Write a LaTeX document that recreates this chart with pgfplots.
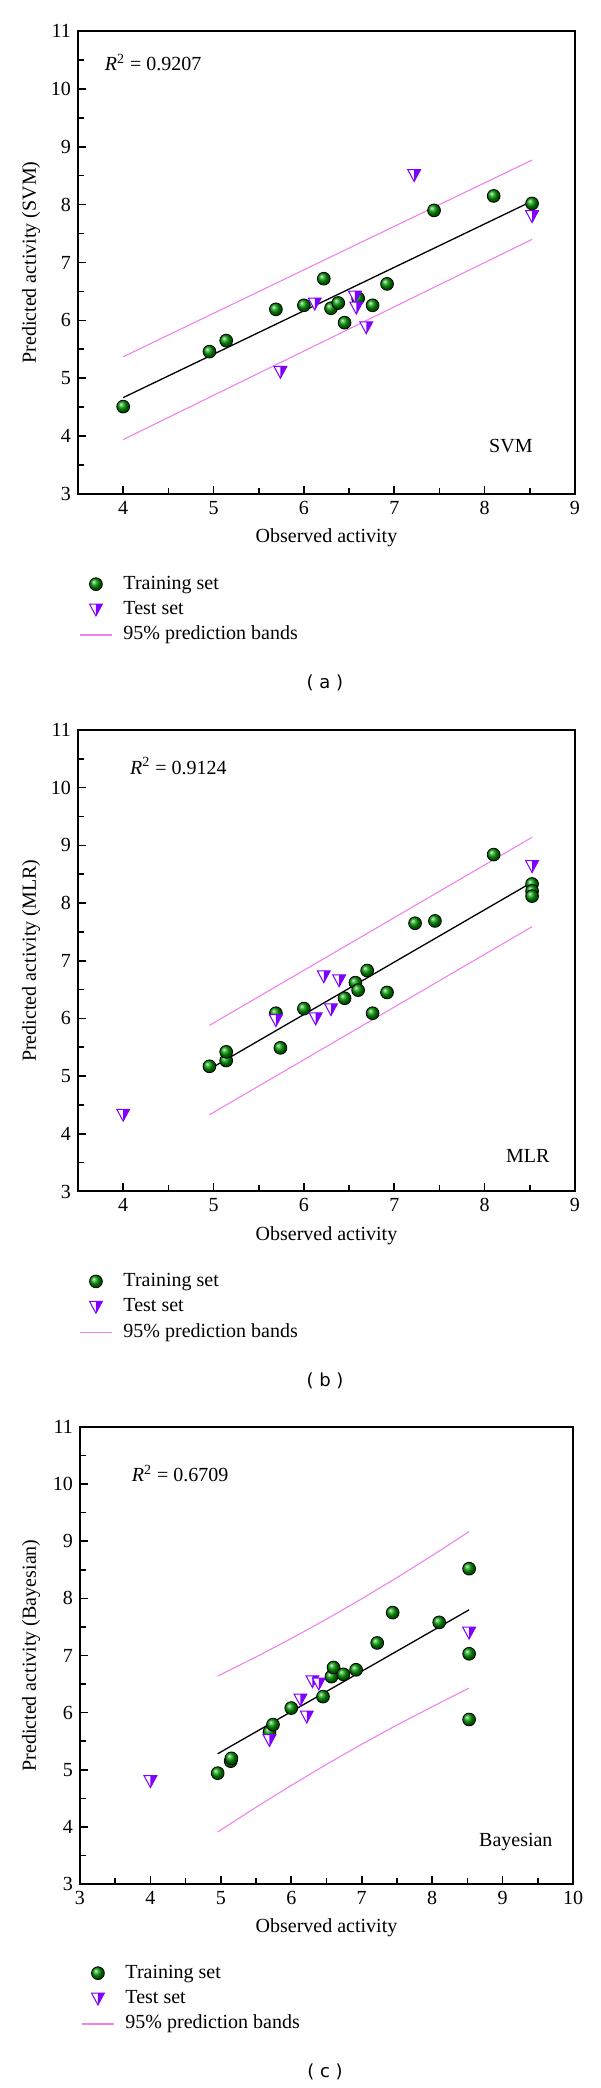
\documentclass[border=0pt]{standalone}
\usepackage{fontspec}
\setmainfont{Liberation Serif}
\newfontfamily\panelfont{DejaVu Sans}
\usepackage{pgfplots}
\pgfplotsset{compat=1.18}

\definecolor{ballgreen}{RGB}{0,150,0}
\definecolor{tripurple}{RGB}{127,0,255}
\definecolor{bandpink}{RGB}{238,130,238}

\pgfdeclareplotmark{halftri}{%
  \pgfscope
  \pgfsetlinewidth{0.5pt}%
  \pgfsetfillcolor{white}%
  \pgfpathmoveto{\pgfqpoint{-\pgfplotmarksize}{0.85\pgfplotmarksize}}%
  \pgfpathlineto{\pgfqpoint{\pgfplotmarksize}{0.85\pgfplotmarksize}}%
  \pgfpathlineto{\pgfqpoint{0pt}{-\pgfplotmarksize}}%
  \pgfpathclose
  \pgfusepathqfill
  \pgfsetfillcolor{tripurple}%
  \pgfpathmoveto{\pgfqpoint{0pt}{0.85\pgfplotmarksize}}%
  \pgfpathlineto{\pgfqpoint{\pgfplotmarksize}{0.85\pgfplotmarksize}}%
  \pgfpathlineto{\pgfqpoint{0pt}{-\pgfplotmarksize}}%
  \pgfpathclose
  \pgfusepathqfill
  \pgfsetstrokecolor{tripurple}%
  \pgfpathmoveto{\pgfqpoint{-\pgfplotmarksize}{0.85\pgfplotmarksize}}%
  \pgfpathlineto{\pgfqpoint{\pgfplotmarksize}{0.85\pgfplotmarksize}}%
  \pgfpathlineto{\pgfqpoint{0pt}{-\pgfplotmarksize}}%
  \pgfpathclose
  \pgfusepathqstroke
  \endpgfscope
}

\pgfplotsset{
  panel/.style={
    scale only axis,
    ymin=3, ymax=11, ytick={3,4,...,11},
    minor tick num=1,
    tick align=inside,
    xtick pos=left, ytick pos=left,
    axis line style={line width=1pt},
    every tick/.style={black, line width=0.8pt},
    major tick length=4pt, minor tick length=3pt,
    /pgf/number format/assume math mode=true,
    tick label style={font=\fontsize{10}{12}\selectfont},
    label style={font=\fontsize{10}{12}\selectfont},
    xlabel={Observed activity},
    xlabel style={at={(axis description cs:0.5,0)}, anchor=center, yshift=-22pt},
    clip=false,
    legend cell align=left,
    legend style={draw=none, fill=none, at={(0.002,-0.168)}, anchor=north west,
      inner sep=0pt, row sep=0.7pt, column sep=4pt,
      nodes={inner sep=1.5pt, text height=7pt, text depth=2pt, font=\fontsize{10}{12}\selectfont}},
    legend image code/.code={\draw[mark repeat=2,mark phase=2,##1] plot coordinates {(0pt,0pt) (8pt,0pt) (16pt,0pt)};},
  },
  train/.style={only marks, mark=ball, mark size=3.2pt, mark options={ball color=ballgreen}},
  test/.style={only marks, mark=halftri, mark size=3.2pt},
  band/.style={color=bandpink, line width=0.55pt, mark=none, forget plot},
  fit/.style={color=black, line width=0.65pt, mark=none, forget plot},
}

\begin{document}
\begin{tikzpicture}
\path[use as bounding box] (0pt,0pt) rectangle (300pt,1044pt);

% ---------------- (a) SVM ----------------
\begin{axis}[panel, at={(39pt,797pt)}, anchor=south west,
  width=248.5pt, height=231.5pt,
  xmin=3.5, xmax=9, xtick={4,5,...,9},
  ylabel={Predicted activity (SVM)},
  ylabel style={at={(axis description cs:-0.0946,0.5)}, anchor=center}]
\addplot[band] coordinates {(4.0,5.37) (8.525,8.77)};
\addplot[band] coordinates {(4.0,3.94) (8.525,7.40)};
\addplot[fit] coordinates {(4.0,4.665) (8.525,8.06)};
\addplot[train] coordinates {
(4.00,4.51) (4.955,5.46) (5.14,5.65) (5.69,6.19) (6.00,6.26) (6.22,6.72)
(6.30,6.21) (6.38,6.30) (6.45,5.96) (6.60,6.38) (6.76,6.26) (6.92,6.63)
(7.44,7.90) (8.10,8.15) (8.525,8.02)};
\addlegendentry{Training set}
\addplot[test] coordinates {
(5.74,5.11) (6.12,6.29) (6.565,6.41) (6.58,6.22) (6.69,5.88) (7.22,8.51) (8.525,7.80)};
\addlegendentry{Test set}
\addlegendimage{color=bandpink, line width=0.55pt}
\addlegendentry{95\% prediction bands}
\node[anchor=west, font=\fontsize{10}{12}\selectfont] at (axis description cs:0.040,0.932) {\textit{R}\textsuperscript{2} = 0.9207};
\node[font=\fontsize{10}{12}\selectfont] at (axis description cs:0.871,0.104) {SVM};
\end{axis}

% ---------------- (b) MLR ----------------
\begin{axis}[panel, at={(39pt,448.25pt)}, anchor=south west,
  width=248.5pt, height=230.75pt,
  xmin=3.5, xmax=9, xtick={4,5,...,9},
  ylabel={Predicted activity (MLR)},
  ylabel style={at={(axis description cs:-0.0946,0.5)}, anchor=center}]
\addplot[band] coordinates {(4.955,5.88) (8.525,9.14)};
\addplot[band] coordinates {(4.955,4.33) (8.525,7.59)};
\addplot[fit] coordinates {(4.955,5.12) (8.525,8.36)};
\addplot[train] coordinates {
(4.955,5.17) (5.14,5.27) (5.14,5.42) (5.69,6.09) (5.74,5.49) (6.00,6.17)
(6.45,6.35) (6.57,6.62) (6.60,6.49) (6.70,6.83) (6.76,6.09) (6.92,6.45)
(7.23,7.65) (7.45,7.69) (8.10,8.84) (8.525,8.33) (8.525,8.21) (8.525,8.12)};
\addlegendentry{Training set}
\addplot[test] coordinates {
(4.00,4.33) (5.69,5.97) (6.13,6.00) (6.22,6.73) (6.30,6.16) (6.39,6.66) (8.525,8.64)};
\addlegendentry{Test set}
\addlegendimage{color=bandpink, line width=0.55pt}
\addlegendentry{95\% prediction bands}
\node[anchor=west, font=\fontsize{10}{12}\selectfont] at (axis description cs:0.0905,0.922) {\textit{R}\textsuperscript{2} = 0.9124};
\node[font=\fontsize{10}{12}\selectfont] at (axis description cs:0.905,0.077) {MLR};
\end{axis}

% ---------------- (c) Bayesian ----------------
\begin{axis}[panel, at={(40pt,102pt)}, anchor=south west,
  width=246.5pt, height=228.5pt,
  xmin=3, xmax=10, xtick={3,4,...,10},
  ylabel={Predicted activity (Bayesian)},
  ylabel style={at={(axis description cs:-0.0994,0.5)}, anchor=center}]
\addplot[band] coordinates {(4.955,6.64) (5.5,6.974) (6.0,7.298) (6.5,7.637) (7.0,7.992) (7.5,8.363) (8.0,8.749) (8.525,9.17)};
\addplot[band] coordinates {(4.955,3.91) (5.5,4.344) (6.0,4.726) (6.5,5.095) (7.0,5.446) (7.5,5.783) (8.0,6.103) (8.525,6.43)};
\addplot[fit] coordinates {(4.955,5.28) (8.525,7.80)};
\addplot[train] coordinates {
(4.955,4.94) (5.14,5.15) (5.15,5.20) (5.69,5.66) (5.74,5.79) (6.00,6.08)
(6.45,6.28) (6.57,6.63) (6.60,6.79) (6.74,6.67) (6.92,6.75) (7.22,7.22)
(7.44,7.75) (8.10,7.58) (8.525,8.52) (8.525,7.03) (8.525,5.88)};
\addlegendentry{Training set}
\addplot[test] coordinates {
(4.00,4.80) (5.69,5.52) (6.13,6.23) (6.22,5.93) (6.30,6.55) (6.39,6.51) (8.525,7.40)};
\addlegendentry{Test set}
\addlegendimage{color=bandpink, line width=0.55pt}
\addlegendentry{95\% prediction bands}
\node[anchor=west, font=\fontsize{10}{12}\selectfont] at (axis description cs:0.091,0.899) {\textit{R}\textsuperscript{2} = 0.6709};
\node[font=\fontsize{10}{12}\selectfont] at (axis description cs:0.884,0.092) {Bayesian};
\end{axis}

\node[font=\panelfont\fontsize{9}{11}\selectfont] at (162.5pt,702.5pt) {( a )};
\node[font=\panelfont\fontsize{9}{11}\selectfont] at (162.5pt,353.5pt) {( b )};
\node[font=\panelfont\fontsize{9}{11}\selectfont] at (162.5pt,8pt) {( c )};
\end{tikzpicture}
\end{document}
